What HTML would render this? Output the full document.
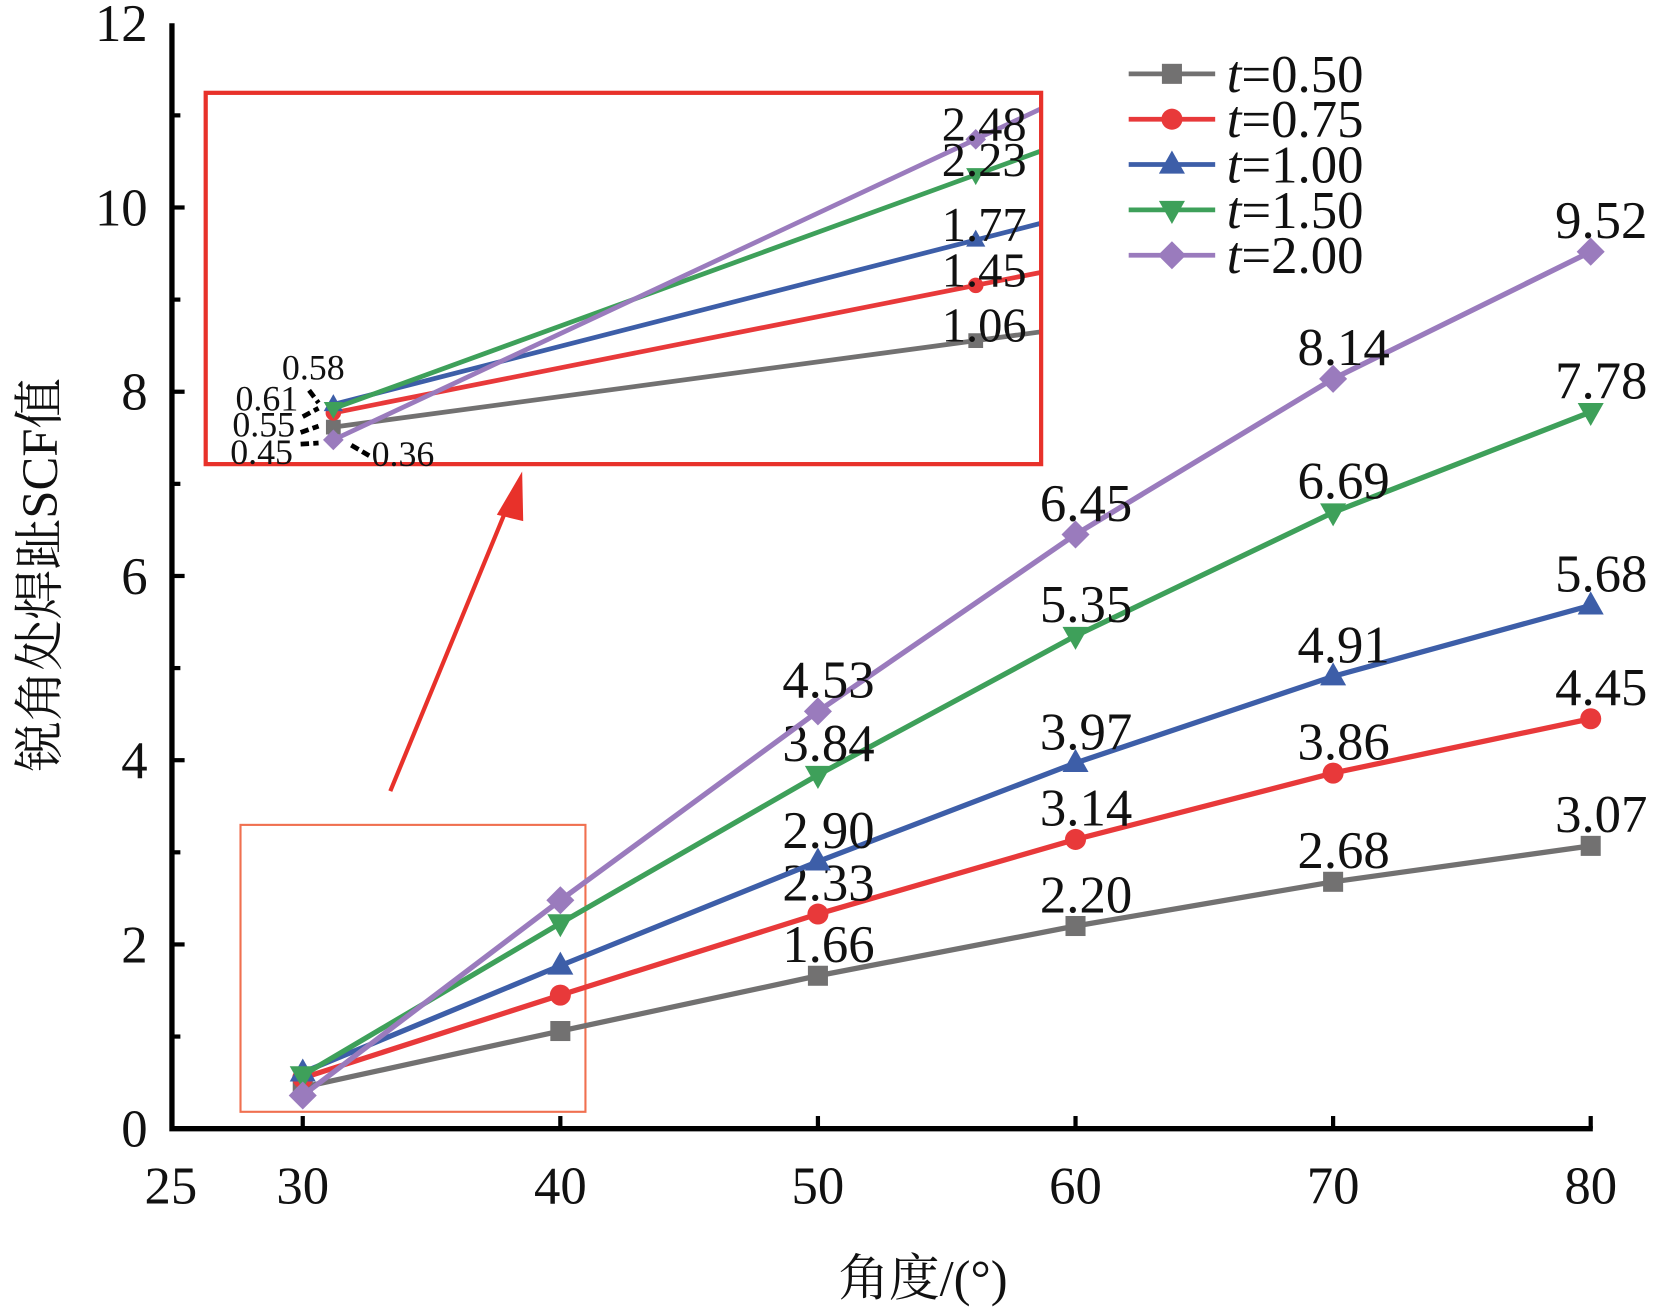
<!DOCTYPE html>
<html><head><meta charset="utf-8"><style>
html,body{margin:0;padding:0;background:#fff}
svg{display:block}
text{font-family:"Liberation Serif","Noto Serif CJK SC",serif;fill:#111}
</style></head><body>
<svg id="chart" width="1654" height="1308" viewBox="0 0 1568 1240" xmlns="http://www.w3.org/2000/svg"></svg>
<script>
const categories=[30,40,50,60,70,80];
const seriesNames=["0.50","0.75","1.00","1.50","2.00"];
const s050=[0.45,1.06,1.66,2.20,2.68,3.07];
const s075=[0.55,1.45,2.33,3.14,3.86,4.45];
const s100=[0.61,1.77,2.90,3.97,4.91,5.68];
const s150=[0.58,2.23,3.84,5.35,6.69,7.78];
const s200=[0.36,2.48,4.53,6.45,8.14,9.52];
const yTicks=[0,2,4,6,8,10,12];
const xTicks=[25,30,40,50,60,70,80];
const colors=["#727171","#e8393a","#3d5ea8","#3ea05a","#9a7bbd"];
const markers=["square","circle","up","down","diamond"];
const allSeries=[s050,s075,s100,s150,s200];

const NS="http://www.w3.org/2000/svg";
const svg=document.getElementById('chart');
function el(tag,attrs,parent){const e=document.createElementNS(NS,tag);for(const k in attrs)e.setAttribute(k,attrs[k]);(parent||svg).appendChild(e);return e;}
const X=v=>287+(v-30)*24.42;
const Y=v=>1070-v*87.33;
const IX=v=>316+(v-30)*60.9;
const IY=v=>417-(v-0.36)*134.4;

function marker(type,x,y,c,s,parent){
  let m;
  if(type==="square")m=el('rect',{x:x-s,y:y-s,width:2*s,height:2*s,fill:c},parent);
  else if(type==="circle")m=el('circle',{cx:x,cy:y,r:s*1.05,fill:c},parent);
  else if(type==="up")m=el('polygon',{points:`${x},${y-s*1.4} ${x-s*1.3},${y+s*0.9} ${x+s*1.3},${y+s*0.9}`,fill:c},parent);
  else if(type==="down")m=el('polygon',{points:`${x},${y+s*1.4} ${x-s*1.3},${y-s*0.9} ${x+s*1.3},${y-s*0.9}`,fill:c},parent);
  else m=el('polygon',{points:`${x},${y-s*1.4} ${x+s*1.4},${y} ${x},${y+s*1.4} ${x-s*1.4},${y}`,fill:c},parent);
  return m;
}

// axes
const ax=el('path',{d:`M163 22 L163 1070 L1510 1070`,stroke:'#000','stroke-width':5,fill:'none'});


for(let v=1;v<=11;v++){const t=el('line',{x1:163,x2:v%2?171:175,y1:Y(v),y2:Y(v),stroke:'#000','stroke-width':4});}
yTicks.forEach(v=>{const t=el('text',{x:140,y:Y(v)+17,'font-size':50,'text-anchor':'end'});t.textContent=v;});
xTicks.forEach(v=>{
  if(v!==25){const t=el('line',{x1:X(v),x2:X(v),y1:1070,y2:1058,stroke:'#000','stroke-width':4});}
  const lx=v===25?162:X(v);
  const l=el('text',{x:lx,y:1141,'font-size':50,'text-anchor':'middle'});l.textContent=v;
});
const yt=el('text',{x:0,y:0,'font-size':48,'text-anchor':'middle',transform:'translate(54,545) rotate(-90)'});yt.textContent='锐角处焊趾SCF值';

const xt=el('text',{x:875,y:1228,'font-size':48,'text-anchor':'middle'});xt.textContent='角度/(°)';


// zoom box
const zb=el('rect',{x:228,y:782,width:327,height:272,fill:'none',stroke:'#f07050','stroke-width':2});

const ar=el('line',{x1:370,y1:750,x2:482,y2:478,stroke:'#e8312a','stroke-width':4});

const ah=el('polygon',{points:'495,447 471,488 496,494',fill:'#e8312a'});


// main series
allSeries.forEach((s,i)=>{
  const g=el('g',{});
  
  el('polyline',{points:s.map((v,j)=>X(categories[j])+','+Y(v)).join(' '),fill:'none',stroke:colors[i],'stroke-width':5},g);
  s.forEach((v,j)=>{
    const m=marker(markers[i],X(categories[j]),Y(v),colors[i],9.5,g);
    
    if(j>=2){const t=el('text',{x:X(categories[j])+10,y:Y(v)-13,'font-size':50,'text-anchor':'middle'},g);t.textContent=v.toFixed(2);}
  });
});

// inset
const ig=el('g',{});

const cp=el('clipPath',{id:'ic'},ig);el('rect',{x:195,y:88,width:792,height:352},cp);
const ic=el('g',{'clip-path':'url(#ic)'},ig);
allSeries.forEach((s,i)=>{
  const x1=IX(30),x2=IX(40),y1=IY(s[0]),y2=IY(s[1]);
  const ex=1000,ey=y1+(y2-y1)*(ex-x1)/(x2-x1);
  el('line',{x1:x1,y1:y1,x2:ex,y2:ey,stroke:colors[i],'stroke-width':4.5},ic);
  const m0=marker(markers[i],x1,y1,colors[i],7,ic);
  const m1=marker(markers[i],x2,y2,colors[i],7,ic);
  const t=el('text',{x:933,y:y2+1,'font-size':46,'text-anchor':'middle'},ig);t.textContent=s[1].toFixed(2);
});
const ib=el('rect',{x:195,y:88,width:792,height:352,fill:'none',stroke:'#e8312a','stroke-width':4},ig);

[[s150[0],297,360],[s100[0],253,389],[s075[0],250,414],[s050[0],248,440],[s200[0],382,442]].forEach(a=>{
  const t=el('text',{x:a[1],y:a[2],'font-size':34,'text-anchor':'middle'},ig);t.textContent=a[0].toFixed(2);
});
[[293,370,302,382],[287,395,302,387],[285,410,302,404],[285,421,302,420],[333,422,350,432]].forEach(a=>{
  el('line',{x1:a[0],y1:a[1],x2:a[2],y2:a[3],stroke:'#000','stroke-width':4.5,'stroke-dasharray':'8,4'},ig);
});

// legend
seriesNames.forEach((n,i)=>{
  const y=70+i*43;
  const g=el('g',{});
  
  el('line',{x1:1070,x2:1152,y1:y,y2:y,stroke:colors[i],'stroke-width':4.5},g);
  marker(markers[i],1111,y,colors[i],9.5,g);
  const t=el('text',{x:1163,y:y+17,'font-size':50},g);
  const ti=el('tspan',{'font-style':'italic'},t);ti.textContent='t';
  const tr=el('tspan',{},t);tr.textContent='='+n;
});
</script>
</body></html>
